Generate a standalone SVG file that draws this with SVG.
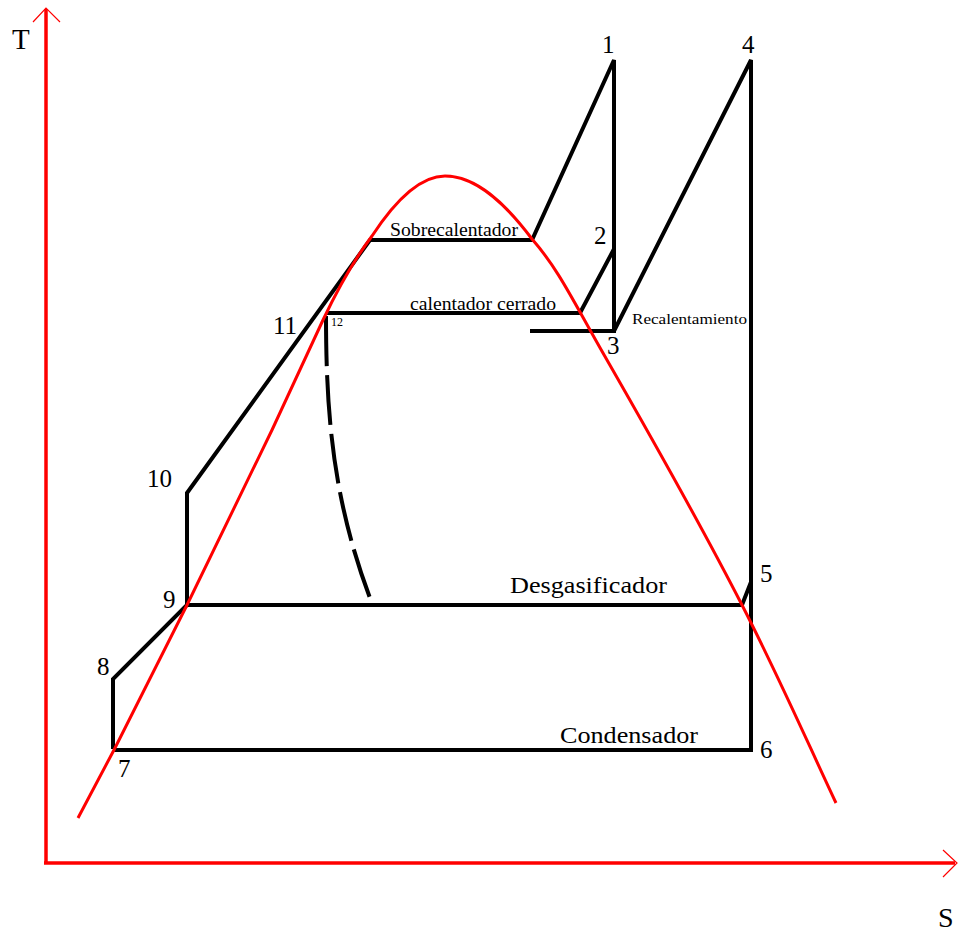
<svg xmlns="http://www.w3.org/2000/svg" width="958" height="932" viewBox="0 0 958 932">
<style>
.ax{stroke:#ff0000;stroke-width:3.5;fill:none}
.ah{stroke:#ff0000;stroke-width:1.2;fill:none}
.dome{stroke:#ff0000;stroke-width:3;fill:none;stroke-linejoin:round}
.ln{stroke:#000;stroke-width:4;fill:none;stroke-linejoin:miter;stroke-linecap:butt}
.dash{stroke:#000;stroke-width:4;fill:none;stroke-dasharray:50 9}
text{font-family:"Liberation Serif","Times New Roman",serif;fill:#000}
.n{font-size:25px}
.lbl{font-size:24px}
.sm{font-size:18px}
</style>
<rect width="958" height="932" fill="#fff"/>
<g id="axes">
<line class="ax" x1="46" y1="864" x2="46" y2="9"/>
<polyline class="ah" points="33,22 46,8 60,22"/>
<line class="ax" x1="44" y1="863" x2="955" y2="863"/>
<polyline class="ah" points="943,850 957,863 943,877"/>
<text x="12" y="49" style="font-size:29px">T</text>
<text x="938" y="927" style="font-size:28px">S</text>
</g>
<g id="connectors">
<polyline class="ln" points="113,749 113,679 187,605 187,493 370,240 532,240 614,60 614,331"/>
<line class="ln" x1="530" y1="331" x2="616" y2="331"/>
<polyline class="ln" points="614,249 580,313 326,313"/>
<polyline class="ln" points="614,331 751,60 751,750 113,750"/>
<polyline class="ln" points="751,582 742,605 187,605"/>
<path class="dash" d="M326,316 C326,420 334,505 373,606"/>
</g>
<g id="dome">
<path class="dome" d="M78,818 L115,748 L187,605 L272,430 L323,320 C341,282 357,256 372,236 C393,204 418,176 445,176 C476,176 505,203 532,239 C559,270 572,299 607,360 C642,421 704,531 742,605 C780,679 805,737 836,803"/>
</g>
<g id="n1"><text class="n" x="602" y="53">1</text></g>
<g id="n2"><text class="n" x="594" y="244">2</text></g>
<g id="n3"><text class="n" x="607" y="354">3</text></g>
<g id="n4"><text class="n" x="742" y="53">4</text></g>
<g id="n5"><text class="n" x="760" y="582">5</text></g>
<g id="n6"><text class="n" x="760" y="758">6</text></g>
<g id="n7"><text class="n" x="118" y="777">7</text></g>
<g id="n8"><text class="n" x="97" y="675">8</text></g>
<g id="n9"><text class="n" x="163" y="608">9</text></g>
<g id="n10"><text class="n" x="147" y="487">10</text></g>
<g id="n11"><text class="n" x="273" y="334">11</text></g>
<g id="n12"><text x="331" y="326" style="font-size:12px">12</text></g>
<g id="sobrecalentador"><text class="sm" x="390" y="236" textLength="128" lengthAdjust="spacingAndGlyphs">Sobrecalentador</text></g>
<g id="calentador"><text class="sm" x="410" y="310" textLength="146" lengthAdjust="spacingAndGlyphs">calentador cerrado</text></g>
<g id="recalentamiento"><text x="632" y="324" style="font-size:14px" textLength="115" lengthAdjust="spacingAndGlyphs">Recalentamiento</text></g>
<g id="desgasificador"><text class="lbl" x="510" y="593" textLength="157" lengthAdjust="spacingAndGlyphs">Desgasificador</text></g>
<g id="condensador"><text class="lbl" x="560" y="743" textLength="138" lengthAdjust="spacingAndGlyphs">Condensador</text></g>
</svg>
